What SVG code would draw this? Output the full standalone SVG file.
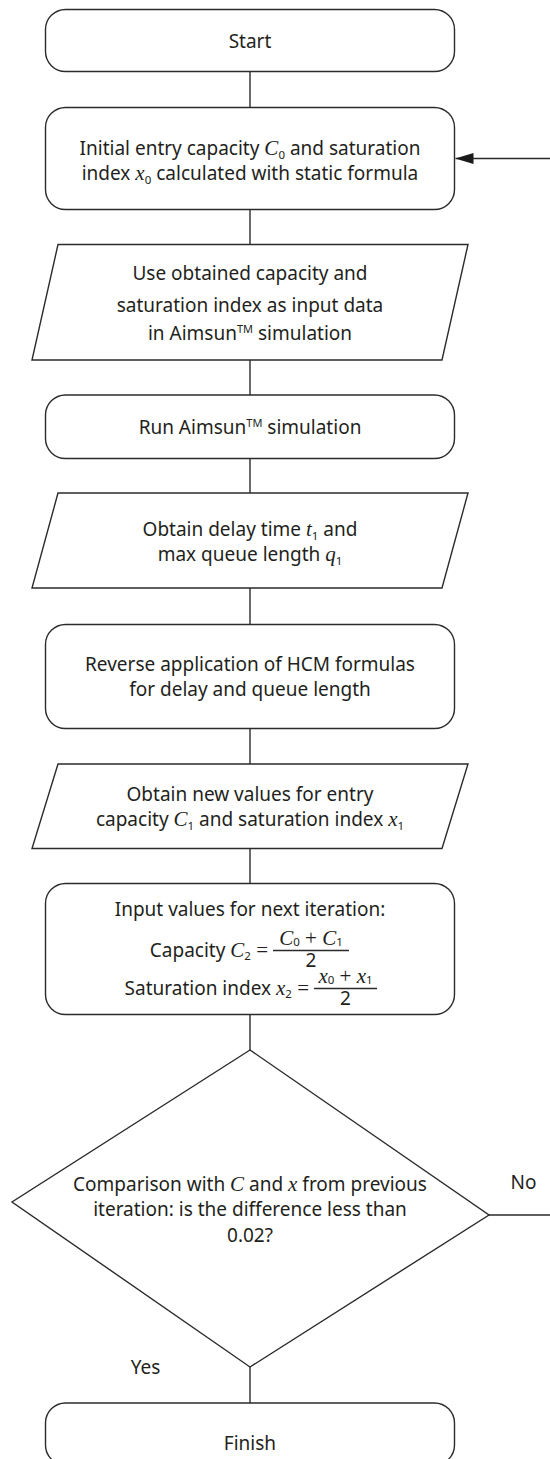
<svg xmlns="http://www.w3.org/2000/svg" width="550" height="1459" viewBox="0 0 550 1459">
<defs>
<style>
.sh{fill:#fff;stroke:#2b2b2b;stroke-width:1.4}
.ln{fill:none;stroke:#2b2b2b;stroke-width:1.4}
.t{font-family:"Noto Sans","Liberation Sans",sans-serif;font-size:19px;fill:#231f20;text-anchor:middle}
.te{font-family:"Noto Sans","Liberation Sans",sans-serif;font-size:19px;fill:#231f20;text-anchor:end}
.v{font-family:"Liberation Serif",serif;font-style:italic;font-size:21px}
.r{font-family:"Liberation Serif",serif;font-style:normal;font-size:21px}
.s{font-size:11.5px}
.tm{font-size:11px}
</style>
<marker id="ah" viewBox="0 0 18 11" refX="18" refY="5.5" markerWidth="18" markerHeight="11" markerUnits="userSpaceOnUse" orient="auto">
<path d="M0,0 L18,5.5 L0,11 z" fill="#1a1a1a"/>
</marker>
</defs>
<rect width="550" height="1459" fill="#fff"/>

<g id="connectors">
<path class="ln" d="M250,71.5 V107.5"/>
<path class="ln" d="M250,209.5 V244.5"/>
<path class="ln" d="M250,360 V395"/>
<path class="ln" d="M250,458.5 V493"/>
<path class="ln" d="M250,588 V624.5"/>
<path class="ln" d="M250,728.5 V764"/>
<path class="ln" d="M250,848.5 V883.5"/>
<path class="ln" d="M250,1014.5 V1050"/>
<path class="ln" d="M250,1367 V1403"/>
<path class="ln" d="M489,1215 H553 V158.5 H455.5" marker-end="url(#ah)"/>
<text class="t" x="523.5" y="1189">No</text>
<text class="t" x="145.5" y="1374">Yes</text>
</g>

<g id="start">
<rect class="sh" x="45.5" y="9.5" width="409" height="62" rx="20"/>
<text class="t" x="250" y="48">Start</text>
</g>

<g id="initial">
<rect class="sh" x="45.5" y="107.5" width="409" height="102" rx="20"/>
<text class="t" x="250" y="155">Initial entry capacity <tspan class="v">C</tspan><tspan class="s" dy="4">0</tspan><tspan dy="-4"> and saturation</tspan></text>
<text class="t" x="250" y="180">index <tspan class="v">x</tspan><tspan class="s" dy="4">0</tspan><tspan dy="-4"> calculated with static formula</tspan></text>
</g>

<g id="input-data">
<polygon class="sh" points="58,244.5 468,244.5 442,360 32,360"/>
<text class="t" x="250" y="280">Use obtained capacity and</text>
<text class="t" x="250" y="312">saturation index as input data</text>
<text class="t" x="250" y="340">in Aimsun<tspan class="tm" dy="-7">TM</tspan><tspan dy="7"> simulation</tspan></text>
</g>

<g id="run">
<rect class="sh" x="45.5" y="395" width="409" height="63.5" rx="20"/>
<text class="t" x="250" y="434">Run Aimsun<tspan class="tm" dy="-7">TM</tspan><tspan dy="7"> simulation</tspan></text>
</g>

<g id="obtain-delay">
<polygon class="sh" points="58,493 468,493 442,588 32,588"/>
<text class="t" x="250" y="536">Obtain delay time <tspan class="v">t</tspan><tspan class="s" dy="4">1</tspan><tspan dy="-4"> and</tspan></text>
<text class="t" x="250" y="561">max queue length <tspan class="v">q</tspan><tspan class="s" dy="4">1</tspan></text>
</g>

<g id="reverse">
<rect class="sh" x="45.5" y="624.5" width="409" height="104" rx="20"/>
<text class="t" x="250" y="671">Reverse application of HCM formulas</text>
<text class="t" x="250" y="696">for delay and queue length</text>
</g>

<g id="new-values">
<polygon class="sh" points="58,764 468,764 442,848.5 32,848.5"/>
<text class="t" x="250" y="801">Obtain new values for entry</text>
<text class="t" x="250" y="826">capacity <tspan class="v">C</tspan><tspan class="s" dy="4">1</tspan><tspan dy="-4"> and saturation index </tspan><tspan class="v">x</tspan><tspan class="s" dy="4">1</tspan></text>
</g>

<g id="next-iteration">
<rect class="sh" x="45.5" y="883.5" width="409" height="131" rx="20"/>
<text class="t" x="250" y="916">Input values for next iteration:</text>
<text class="te" x="268" y="957">Capacity <tspan class="v">C</tspan><tspan class="s" dy="3">2</tspan><tspan class="r" dy="-3"> =</tspan></text>
<line class="ln" x1="273" y1="950.5" x2="349" y2="950.5" stroke-width="1.3"/>
<text class="t" x="311" y="945"><tspan class="v">C</tspan><tspan class="s" dy="1">0</tspan><tspan class="r" dy="-1"> + </tspan><tspan class="v">C</tspan><tspan class="s" dy="1">1</tspan></text>
<text class="t" x="311" y="967">2</text>
<text class="te" x="309" y="995">Saturation index <tspan class="v">x</tspan><tspan class="s" dy="3">2</tspan><tspan class="r" dy="-3"> =</tspan></text>
<line class="ln" x1="314" y1="988.5" x2="377" y2="988.5" stroke-width="1.3"/>
<text class="t" x="345.5" y="983"><tspan class="v">x</tspan><tspan class="s" dy="1">0</tspan><tspan class="r" dy="-1"> + </tspan><tspan class="v">x</tspan><tspan class="s" dy="1">1</tspan></text>
<text class="t" x="345.5" y="1005">2</text>
</g>

<g id="decision">
<polygon class="sh" points="250,1050 489,1215 250,1367 12,1202"/>
<text class="t" x="250" y="1191">Comparison with <tspan class="v">C</tspan> and <tspan class="v">x</tspan> from previous</text>
<text class="t" x="250" y="1216">iteration: is the difference less than</text>
<text class="t" x="250" y="1242">0.02?</text>
</g>

<g id="finish">
<rect class="sh" x="45.5" y="1403" width="409" height="62" rx="20"/>
<text class="t" x="250" y="1450">Finish</text>
</g>
</svg>
